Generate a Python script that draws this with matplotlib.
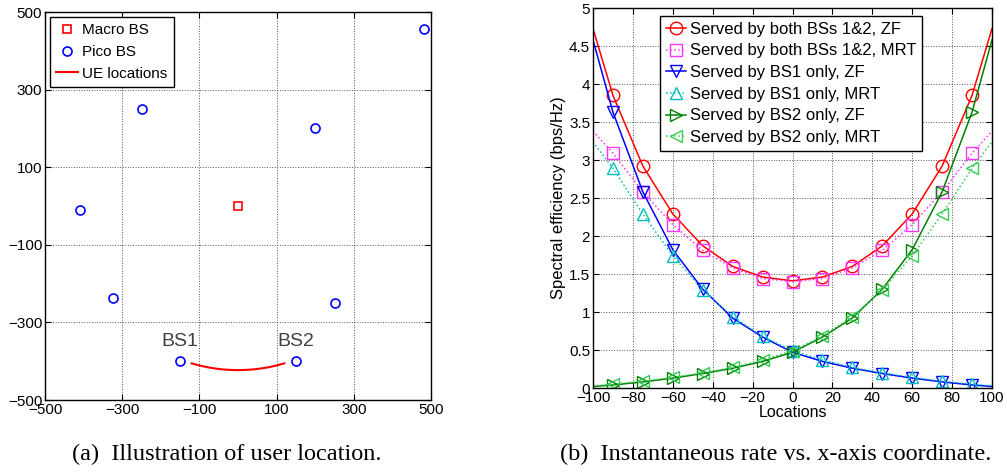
import matplotlib
matplotlib.use("Agg")
import matplotlib.pyplot as plt
from matplotlib.ticker import FuncFormatter

plt.rcParams['font.family'] = ['Liberation Sans', 'DejaVu Sans']

# ---------------- data: left panel ----------------
macro_x = [0]
macro_y = [0]
pico_x = [-410, -250, 200, 482, -325, 250, -150, 150]
pico_y = [-10, 250, 200, 456, -237, -250, -400, -400]
ue_x = [-120, -100, -80, -60, -40, -20, 0, 20, 40, 60, 80, 100, 120]
ue_y = [-405.6, -411.0, -415.4, -418.7, -421.1, -422.5, -423.0,
        -422.5, -421.1, -418.7, -415.4, -411.0, -405.6]
bs_labels = ["BS1", "BS2"]
bs_label_x = [-150, 150]
bs_label_y = [-350, -350]
left_ticks = [-500, -300, -100, 100, 300, 500]

# ---------------- data: right panel ----------------
locations = [-100, -90, -75, -60, -45, -30, -15, 0, 15, 30, 45, 60, 75, 90, 100]
both_zf = [4.73, 3.85, 2.92, 2.29, 1.87, 1.60, 1.46, 1.41, 1.46, 1.60, 1.87, 2.29, 2.92, 3.85, 4.73]
both_mrt = [3.38, 3.09, 2.58, 2.15, 1.81, 1.58, 1.44, 1.40, 1.44, 1.58, 1.81, 2.15, 2.58, 3.09, 3.38]
bs1_zf = [4.58, 3.63, 2.58, 1.82, 1.30, 0.92, 0.67, 0.47, 0.35, 0.26, 0.19, 0.13, 0.08, 0.04, 0.02]
bs1_mrt = [3.24, 2.89, 2.29, 1.74, 1.29, 0.94, 0.68, 0.49, 0.37, 0.27, 0.20, 0.14, 0.09, 0.05, 0.03]
bs2_zf = [0.02, 0.04, 0.08, 0.13, 0.19, 0.26, 0.35, 0.47, 0.67, 0.92, 1.30, 1.82, 2.58, 3.63, 4.58]
bs2_mrt = [0.03, 0.05, 0.09, 0.14, 0.20, 0.27, 0.37, 0.49, 0.68, 0.94, 1.29, 1.74, 2.29, 2.89, 3.24]
series_labels = ["Served by both BSs 1&2, ZF", "Served by both BSs 1&2, MRT",
                 "Served by BS1 only, ZF", "Served by BS1 only, MRT",
                 "Served by BS2 only, ZF", "Served by BS2 only, MRT"]
right_xticks = [-100, -80, -60, -40, -20, 0, 20, 40, 60, 80, 100]
right_yticks = [0, 0.5, 1, 1.5, 2, 2.5, 3, 3.5, 4, 4.5, 5]

fig = plt.figure(figsize=(10.07, 4.73), dpi=100)


def style_axes(ax):
    ax.tick_params(direction='in', top=True, right=True, labelsize=11, length=4,
                   width=0.8, pad=2)
    ax.grid(True, linestyle=':', color='#555555', linewidth=0.7)
    for s in ax.spines.values():
        s.set_linewidth(1.0)


# ---------------- left panel ----------------
ax1 = fig.add_axes([45 / 1007, 1 - 400 / 473, 386 / 1007, 388 / 473])
ax1.plot(macro_x, macro_y, 's', mfc='none', mec='red', ms=6, mew=1.2, label='Macro BS')
ax1.plot(pico_x, pico_y, 'o', mfc='none', mec='blue', ms=6.5, mew=1.2, label='Pico BS')
ax1.plot(ue_x, ue_y, '-', color='red', lw=1.5, label='UE locations')
for t, x, y in zip(bs_labels, bs_label_x, bs_label_y):
    ax1.text(x, y, t, ha='center', va='center', fontsize=14, color='#404040')
ax1.set_xlim(-500, 500)
ax1.set_ylim(-500, 500)
ax1.set_xticks(left_ticks)
ax1.set_yticks(left_ticks)
style_axes(ax1)
leg1 = ax1.legend(loc='upper left', fontsize=11, handlelength=1.4, handletextpad=0.3,
                  borderpad=0.4, labelspacing=0.5, fancybox=False, framealpha=1,
                  edgecolor='black', borderaxespad=0.35)
leg1.get_frame().set_linewidth(1.0)

# ---------------- right panel ----------------
ax2 = fig.add_axes([593 / 1007, 1 - 388 / 473, 399 / 1007, 380 / 473])
mk = slice(1, -1)
specs = [
    (both_zf, '-', 'o', '#ff0000'),
    (both_mrt, ':', 's', '#ff33ff'),
    (bs1_zf, '-', 'v', '#0000ff'),
    (bs1_mrt, ':', '^', '#00bfbf'),
    (bs2_zf, '-', '>', '#008000'),
    (bs2_mrt, ':', '<', '#33cc55'),
]
for (vals, ls, m, c), lab in zip(specs, series_labels):
    ax2.plot(locations, vals, linestyle=ls, marker=m, color=c, mfc='none', mec=c,
             ms=9, mew=1.0, lw=1.1, markevery=mk, label=lab)
ax2.set_xlim(-100, 100)
ax2.set_ylim(0, 5)
ax2.set_xticks(right_xticks)
ax2.set_yticks(right_yticks)
ax2.yaxis.set_major_formatter(FuncFormatter(lambda v, p: '%g' % v))
style_axes(ax2)
ax2.set_xlabel('Locations', fontsize=11.5, labelpad=0)
ax2.set_ylabel('Spectral efficiency (bps/Hz)', fontsize=12, labelpad=2)
leg2 = ax2.legend(loc='upper center', bbox_to_anchor=(0.496, 0.979), fontsize=12,
                  handlelength=1.25, handletextpad=0.2, borderpad=0.35,
                  labelspacing=0.4, fancybox=False, framealpha=1,
                  edgecolor='black', borderaxespad=0)
leg2.get_frame().set_linewidth(1.0)

# ---------------- captions ----------------
fig.text(227 / 1007, 1 - 454 / 473, '(a)  Illustration of user location.',
         ha='center', va='center', fontsize=17.5, family='Liberation Serif')
fig.text(776 / 1007, 1 - 454 / 473, '(b)  Instantaneous rate vs. x-axis coordinate.',
         ha='center', va='center', fontsize=17.5, family='Liberation Serif')

fig.savefig('out.png', dpi=100)
